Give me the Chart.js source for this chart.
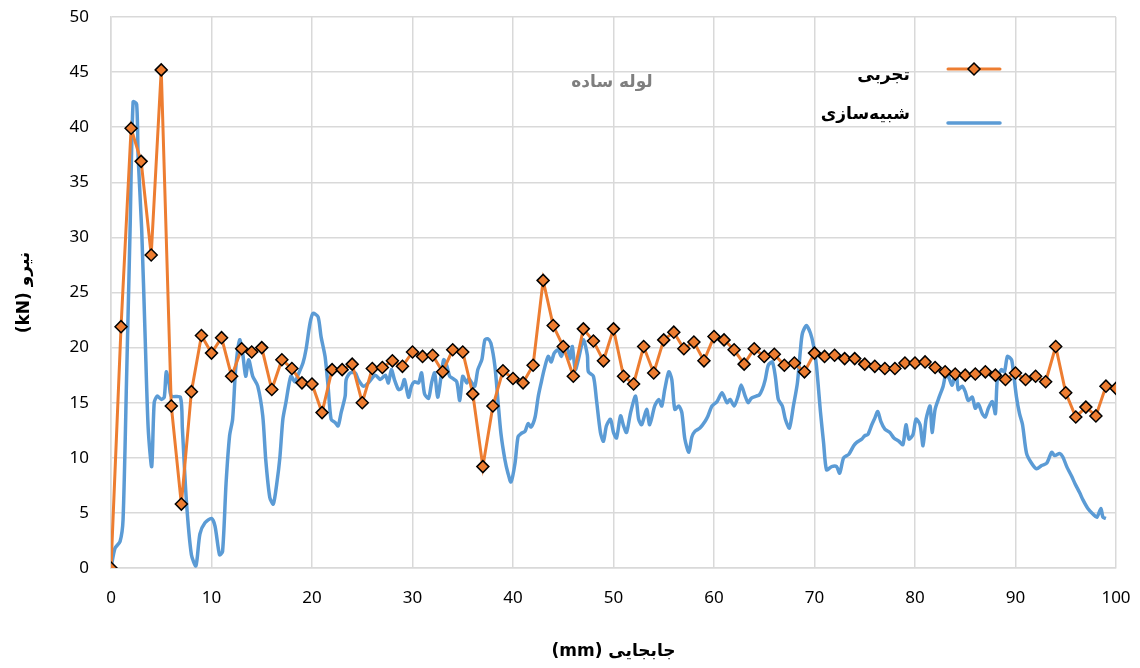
<!DOCTYPE html>
<html>
<head>
<meta charset="utf-8">
<script src="https://cdn.jsdelivr.net/npm/chart.js@4.4.1/dist/chart.umd.min.js"></script>
<style>
  html, body { margin: 0; padding: 0; background: #fff; }
  #wrap { width: 1140px; height: 668px; }
</style>
</head>
<body>
<div id="wrap"><canvas id="chart" width="1140" height="668"></canvas></div>
<script>
// experimental force (kN) at each mm of displacement, 0..100
const expForce = [
  0, 21.9, 39.9, 36.9, 28.4, 45.2, 14.7, 5.8, 16.0, 21.1,
  19.5, 20.9, 17.4, 19.9, 19.6, 20.0, 16.2, 18.9, 18.1, 16.8,
  16.7, 14.1, 18.0, 18.0, 18.5, 15.0, 18.1, 18.2, 18.8, 18.3,
  19.6, 19.2, 19.3, 17.8, 19.8, 19.6, 15.8, 9.2, 14.7, 17.9,
  17.2, 16.8, 18.4, 26.1, 22.0, 20.1, 17.4, 21.7, 20.6, 18.8,
  21.7, 17.4, 16.7, 20.1, 17.7, 20.7, 21.4, 19.9, 20.5, 18.8,
  21.0, 20.7, 19.8, 18.5, 19.9, 19.2, 19.4, 18.4, 18.6, 17.8,
  19.5, 19.2, 19.3, 19.0, 19.0, 18.5, 18.3, 18.1, 18.1, 18.6,
  18.6, 18.7, 18.2, 17.8, 17.6, 17.5, 17.6, 17.8, 17.5, 17.1,
  17.7, 17.1, 17.4, 16.9, 20.1, 15.9, 13.7, 14.6, 13.8, 16.5,
  16.3
];

// simulation curve, displacement (mm)
const simX = [
  0, 0.4, 0.9, 1.2, 1.56, 1.9, 2.2, 2.55, 2.7, 3.05, 3.4, 3.7, 4.05, 4.3, 4.6, 5.0, 5.3, 5.5, 5.8, 6.0,
  6.9, 7.1, 7.5, 8.0, 8.45, 8.85, 9.35, 10.0, 10.35, 10.8, 11.1, 11.45, 11.8, 12.1, 12.4, 12.8, 13.1, 13.4, 13.7, 14.1,
  14.6, 15.1, 15.4, 15.8, 16.15, 16.5, 16.8, 17.1, 17.4, 17.9, 18.3, 18.6, 19.1, 19.4, 19.8, 20.1, 20.6, 20.9, 21.3, 21.6,
  21.9, 22.3, 22.6, 22.9, 23.3, 23.4, 23.8, 24.3, 24.6, 25.1, 25.6, 26.3, 26.8, 27.3, 27.6, 27.9, 28.2, 28.6, 28.9, 29.2,
  29.6, 29.9, 30.2, 30.6, 30.9, 31.2, 31.6, 31.9, 32.2, 32.5, 32.8, 33.1, 33.4, 33.7, 34.0, 34.4, 34.7, 35.0, 35.4, 35.6,
  35.9, 36.2, 36.5, 36.9, 37.2, 37.5, 37.8, 38.2, 38.5, 38.8, 39.2, 39.5, 39.8, 40.2, 40.5, 40.8, 41.2, 41.5, 41.8, 42.2,
  42.5, 42.8, 43.1, 43.5, 43.8, 44.1, 44.5, 44.8, 45.1, 45.4, 45.7, 45.9, 46.2, 46.5, 47.0, 47.4, 47.5, 48.0, 48.3, 48.7,
  49.0, 49.3, 49.7, 50.0, 50.3, 50.7, 51.0, 51.3, 51.7, 52.2, 52.5, 52.8, 53.3, 53.6, 54.1, 54.5, 54.8, 55.1, 55.5, 55.8,
  56.1, 56.5, 56.8, 57.1, 57.5, 57.8, 58.1, 58.6, 59.1, 59.4, 59.8, 60.3, 60.8, 61.3, 61.6, 62.0, 62.4, 62.7, 63.1, 63.4,
  63.7, 64.2, 64.5, 64.8, 65.1, 65.4, 65.8, 66.1, 66.4, 66.8, 67.1, 67.5, 67.9, 68.3, 68.6, 68.8, 69.2, 69.6, 69.9, 70.2,
  70.6, 70.9, 71.2, 71.7, 72.2, 72.5, 72.9, 73.4, 73.9, 74.2, 74.7, 75.0, 75.3, 75.7, 76.0, 76.3, 76.6, 77.0, 77.5, 77.9,
  78.4, 78.8, 79.1, 79.4, 79.8, 80.1, 80.5, 80.8, 81.1, 81.5, 81.7, 82.0, 82.4, 82.8, 83.1, 83.4, 83.7, 84.1, 84.3, 84.7,
  85.0, 85.3, 85.7, 86.0, 86.3, 86.7, 87.0, 87.3, 87.7, 88.0, 88.2, 88.6, 88.9, 89.2, 89.6, 89.8, 90.1, 90.4, 90.7, 91.1,
  91.6, 92.1, 92.6, 93.1, 93.6, 93.9, 94.4, 94.7, 95.1, 95.6, 95.9, 96.4, 96.7, 97.2, 97.7, 98.1, 98.5, 98.7, 99.0
];
// simulation curve, force (kN)
const simY = [
  0, 1.8, 2.4, 4.4, 17.6, 30.8, 42.3, 42.1, 37.3, 30.8, 20.9, 12.7, 9.2, 15.0, 15.6, 15.3, 15.5, 17.8, 16.6, 15.6,
  15.5, 12.7, 6.1, 1.2, 0.2, 3.1, 4.1, 4.5, 3.8, 1.2, 1.5, 7.7, 12.0, 13.5, 18.0, 20.7, 19.5, 17.4, 18.9, 17.4,
  16.5, 13.8, 9.8, 6.4, 5.8, 7.7, 10.0, 13.5, 15.0, 17.4, 16.9, 17.5, 18.6, 19.8, 22.2, 23.1, 22.8, 21.0, 19.2, 16.5,
  13.5, 13.2, 12.9, 14.1, 15.6, 17.1, 17.7, 17.7, 17.1, 16.5, 16.8, 17.5, 17.1, 17.5, 16.8, 18.0, 17.1, 16.2, 16.3, 17.1,
  15.5, 16.5, 16.9, 16.8, 17.7, 15.8, 15.4, 16.8, 17.7, 15.5, 17.1, 18.9, 18.4, 17.4, 17.2, 16.9, 15.2, 17.4, 16.8, 17.2,
  16.8, 16.5, 18.0, 18.9, 20.7, 20.8, 20.4, 18.3, 15.2, 12.2, 9.8, 8.6, 7.8, 9.5, 11.9, 12.2, 12.4, 13.1, 12.8, 13.7,
  15.5, 16.8, 18.0, 19.2, 18.7, 19.5, 19.8, 19.2, 19.9, 19.9, 19.0, 20.1, 18.0, 18.9, 20.7, 19.3, 17.8, 17.4, 15.3, 12.3,
  11.5, 12.9, 13.5, 12.3, 11.8, 13.8, 12.9, 12.3, 14.1, 15.6, 13.5, 13.0, 14.4, 13.0, 14.7, 15.3, 14.7, 16.2, 17.8, 17.1,
  14.4, 14.7, 14.1, 11.7, 10.5, 11.9, 12.4, 12.7, 13.3, 13.8, 14.7, 15.1, 15.9, 15.0, 15.3, 14.7, 15.6, 16.6, 15.6, 15.0,
  15.4, 15.6, 15.7, 16.2, 17.1, 18.4, 18.7, 17.4, 15.3, 14.7, 13.5, 12.7, 14.7, 16.8, 19.8, 21.3, 22.0, 21.3, 20.2, 18.3,
  14.1, 11.4, 8.9, 9.2, 9.2, 8.6, 10.0, 10.3, 11.1, 11.4, 11.7, 12.0, 12.1, 13.0, 13.6, 14.2, 13.3, 12.6, 12.3, 11.8,
  11.5, 11.2, 13.0, 11.7, 12.1, 13.5, 13.0, 11.1, 13.5, 14.7, 12.3, 14.4, 15.5, 16.5, 17.7, 17.2, 16.6, 17.8, 16.2, 16.5,
  16.0, 15.2, 15.5, 14.5, 14.9, 14.0, 13.7, 14.5, 15.1, 14.0, 17.2, 18.0, 17.8, 19.2, 18.9, 17.7, 15.5, 14.0, 13.0, 10.4,
  9.5, 9.0, 9.3, 9.5, 10.5, 10.2, 10.4, 10.1, 9.2, 8.3, 7.7, 6.8, 6.2, 5.4, 4.9, 4.6, 5.4, 4.6, 4.5
];

const xTicks = [0, 10, 20, 30, 40, 50, 60, 70, 80, 90, 100];
const yTicks = [0, 5, 10, 15, 20, 25, 30, 35, 40, 45, 50];

const expLabel = 'تجربی';
const simLabel = 'شبیه‌سازی';
const xTitle = 'جابجایی (mm)';
const yTitle = 'نیرو (kN)';
const note = 'لوله ساده';

const ORANGE = '#ED7D31';
const BLUE = '#5B9BD5';
const GRID = '#d9d9d9';
const FONT = '"Noto Sans", "DejaVu Sans", sans-serif';
const BOLD_FONT = 'bold 17px "DejaVu Sans", "Noto Sans", sans-serif';

// axis titles, note text and the in-plot legend
const textPlugin = {
  id: 'texts',
  afterDraw(chart) {
    const ctx = chart.ctx;
    const area = chart.chartArea;
    ctx.save();
    ctx.fillStyle = '#000';
    ctx.font = BOLD_FONT;
    ctx.direction = 'rtl';
    ctx.textAlign = 'center';
    ctx.textBaseline = 'middle';
    ctx.fillText(xTitle, (area.left + area.right) / 2, 652);

    ctx.save();
    ctx.translate(25, (area.top + area.bottom) / 2);
    ctx.rotate(-Math.PI / 2);
    ctx.fillText(yTitle, 0, 0);
    ctx.restore();

    ctx.fillStyle = '#7f7f7f';
    ctx.font = 'bold 17px "DejaVu Sans", "Noto Sans", sans-serif';
    ctx.fillText(note, 612, 83);

    // legend
    ctx.fillStyle = '#000';
    ctx.font = BOLD_FONT;
    ctx.textAlign = 'right';
    ctx.fillText(expLabel, 910, 76);
    ctx.fillText(simLabel, 910, 115);

    ctx.lineCap = 'round';
    ctx.strokeStyle = ORANGE;
    ctx.lineWidth = 3;
    ctx.beginPath();
    ctx.moveTo(948, 69);
    ctx.lineTo(1000, 69);
    ctx.stroke();

    ctx.fillStyle = ORANGE;
    ctx.strokeStyle = '#000';
    ctx.lineWidth = 1.5;
    ctx.beginPath();
    ctx.moveTo(974, 63);
    ctx.lineTo(980, 69);
    ctx.lineTo(974, 75);
    ctx.lineTo(968, 69);
    ctx.closePath();
    ctx.fill();
    ctx.stroke();

    ctx.strokeStyle = BLUE;
    ctx.lineWidth = 3.5;
    ctx.beginPath();
    ctx.moveTo(948, 123);
    ctx.lineTo(1000, 123);
    ctx.stroke();
    ctx.restore();
  }
};

new Chart(document.getElementById('chart'), {
  type: 'line',
  data: {
    datasets: [
      {
        label: expLabel,
        data: expForce.map((f, i) => ({ x: i, y: f })),
        borderColor: ORANGE,
        borderWidth: 3,
        pointStyle: 'rectRot',
        pointRadius: 6,
        pointBackgroundColor: ORANGE,
        pointBorderColor: '#000',
        pointBorderWidth: 1.5,
        tension: 0
      },
      {
        label: simLabel,
        data: simX.map((d, i) => ({ x: d, y: simY[i] })),
        borderColor: BLUE,
        borderWidth: 3.5,
        pointRadius: 0,
        tension: 0.25
      }
    ]
  },
  options: {
    responsive: false,
    animation: false,
    layout: { padding: { top: 17, right: 24, left: 0, bottom: 0 } },
    plugins: {
      legend: { display: false },
      tooltip: { enabled: false }
    },
    scales: {
      x: {
        type: 'linear',
        min: 0,
        max: 100,
        afterBuildTicks: (s) => { s.ticks = xTicks.map(v => ({ value: v })); },
        afterFit: (s) => { s.height = 100; s.paddingLeft = 0; s.paddingRight = 0; },
        ticks: { padding: 20, color: '#000', font: { family: FONT, size: 17 } },
        grid: { color: GRID, lineWidth: 1.5, drawTicks: false },
        border: { color: GRID, width: 1.5 }
      },
      y: {
        min: 0,
        max: 50,
        afterBuildTicks: (s) => { s.ticks = yTicks.map(v => ({ value: v })); },
        afterFit: (s) => { s.width = 111; s.paddingTop = 0; s.paddingBottom = 0; },
        ticks: { padding: 22, color: '#000', font: { family: FONT, size: 17 } },
        grid: { color: GRID, lineWidth: 1.5, drawTicks: false },
        border: { color: GRID, width: 1.5 }
      }
    }
  },
  plugins: [textPlugin]
});
</script>
</body>
</html>
